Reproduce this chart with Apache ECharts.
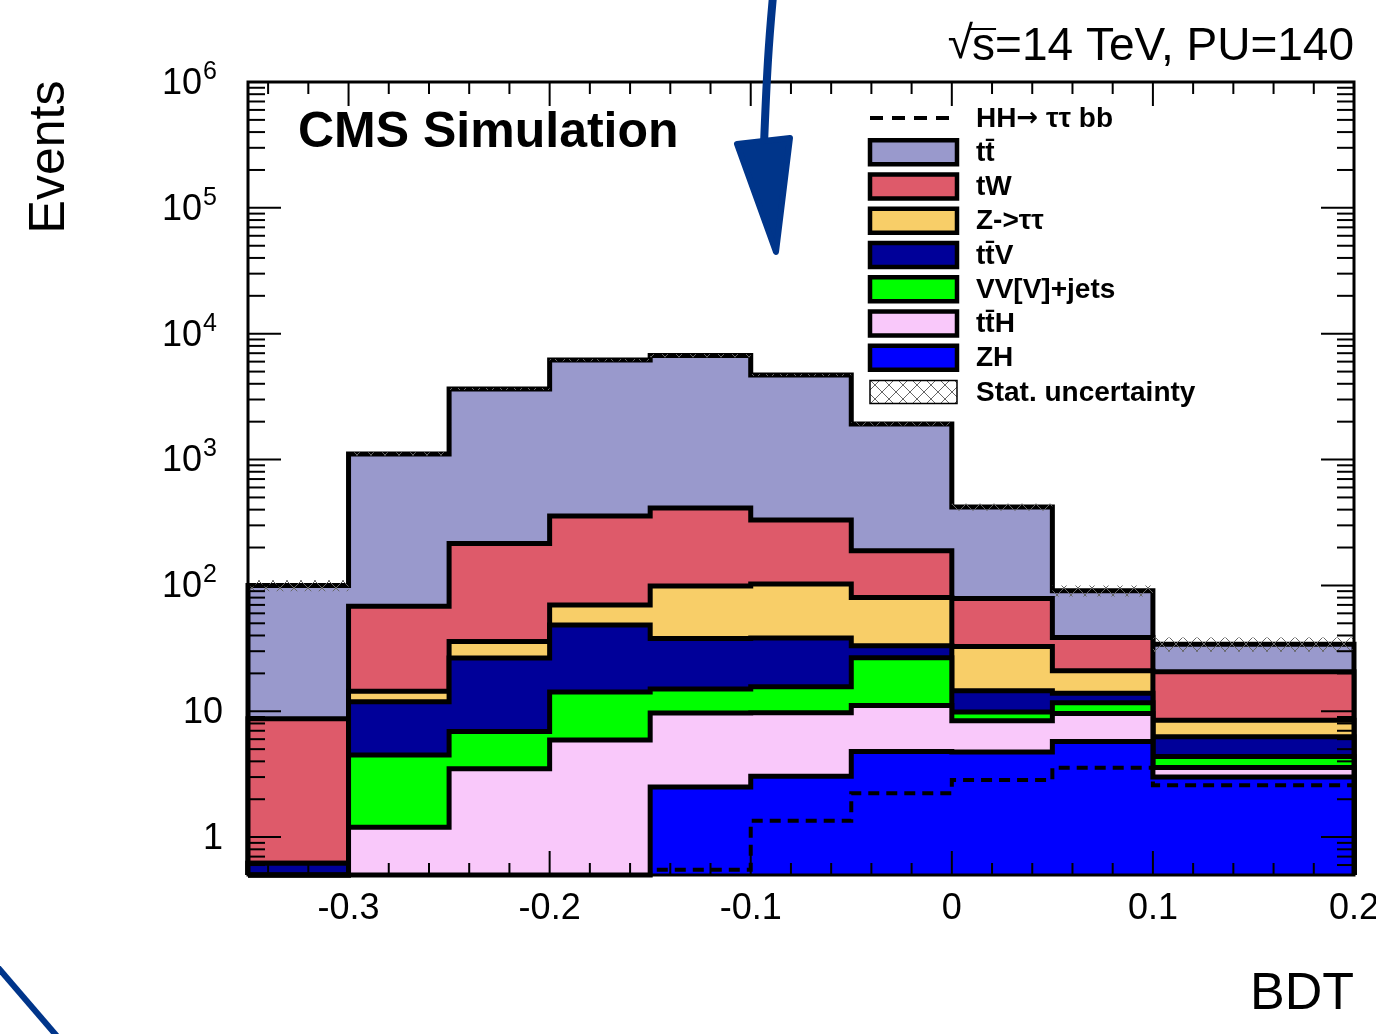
<!DOCTYPE html>
<html><head><meta charset="utf-8">
<script src="https://cdn.jsdelivr.net/npm/echarts@6/dist/echarts.min.js"></script>
<style>html,body{margin:0;padding:0;background:#fff}#c{width:1376px;height:1034px}</style>
</head><body><div id="c"></div>
<script>
const FONT = '"Liberation Sans", Arial, Helvetica, sans-serif';

// ---------------- DATA ----------------
const binEdges = [-0.35, -0.3, -0.25, -0.2, -0.15, -0.1, -0.05, 0, 0.05, 0.1, 0.15, 0.2];
// per-process yields per BDT bin
const ZH   = [0,    0,    0,    0,    2.5,  3.05, 4.8,  4.75, 5.75, 3.0,  3.0 ];
const ttH  = [0.05, 1.2,  3.5,  5.9,  7.2,  6.7,  6.3,  3.65, 3.85, 0.57, 0.57];
const VV   = [0.1,  3.3,  3.4,  8.3,  5.3,  5.9,  15.5, 1.45, 2.1,  0.8,  0.8 ];
const ttV  = [0.47, 7.4,  19.6, 34.3, 22.9, 22.6, 6.6,  4.7,  2.2,  1.9,  1.9 ];
const Ztt  = [0,    2.5,  9.3,  21.4, 61,   64.4, 47,   18.2, 7.1,  2.2,  2.2 ];
const tW   = [8.1,  54,   179,  286,  313,  228,  108,  46,   17.6, 12.1, 12.1];
const tt   = [91,   1040, 3420, 5820, 6300, 4370, 1730, 341,  52,   13.5, 13.5];
const HH   = [0,    0,    0,    0,    0.55, 1.35, 2.23, 2.84, 3.56, 2.58, 2.58];
const statRelErr = [0.10, 0.03, 0.02, 0.02, 0.03, 0.02, 0.03, 0.06, 0.10, 0.13, 0.13];

const processNames = ['ZH', 't\u0074\u0304H', 'VV[V]+jets', 't\u0074\u0304V', 'Z->\u03c4\u03c4', 'tW', 't\u0074\u0304'];
const processData  = [ZH, ttH, VV, ttV, Ztt, tW, tt];          // stacking order bottom -> top
const processColors = ['#0000FF', '#F9C8FA', '#00FF00', '#000099', '#F8CE68', '#DE5A6A', '#9999CC'];

const xTickLabelVals = [-0.3, -0.2, -0.1, 0, 0.1, 0.2];
const xTickLabels    = ['-0.3', '-0.2', '-0.1', '0', '0.1', '0.2'];
const yTickVals      = [1, 10, 100, 1000, 10000, 100000, 1000000];
const yTickExps      = ['', '', '2', '3', '4', '5', '6'];

const Y_MIN = 0.5, Y_MAX = 1e6;
const X_MIN = binEdges[0], X_MAX = binEdges[binEdges.length - 1];

// ---------------- helpers ----------------
const nb = binEdges.length - 1;
const cumul = [];
{
  let run = new Array(nb).fill(0);
  for (let p = 0; p < processData.length; p++) {
    run = run.map((v, i) => v + processData[p][i]);
    cumul.push(run.slice());
  }
}
const total = cumul[cumul.length - 1];

function stepPoints(api, vals) {
  const c = v => Math.max(v, Y_MIN);
  const pts = [api.coord([binEdges[0], Y_MIN])];
  for (let i = 0; i < nb; i++) {
    pts.push(api.coord([binEdges[i], c(vals[i])]));
    pts.push(api.coord([binEdges[i + 1], c(vals[i])]));
  }
  pts.push(api.coord([binEdges[nb], Y_MIN]));
  return pts;
}

function hatchCanvas(bg) {
  const c = document.createElement('canvas');
  c.width = 14; c.height = 14;
  const g = c.getContext('2d');
  if (bg) { g.fillStyle = bg; g.fillRect(0, 0, 14, 14); }
  g.strokeStyle = '#666'; g.lineWidth = 1;
  g.beginPath();
  g.moveTo(0, 0); g.lineTo(14, 14);
  g.moveTo(14, 0); g.lineTo(0, 14);
  g.stroke();
  return c;
}
const hatchImg = hatchCanvas(null);
const hatchImgWhite = hatchCanvas('#fff');

const series = [];
// stacked layers, drawn from the top-most cumulative down to the bottom one
for (let p = processData.length - 1; p >= 0; p--) {
  const vals = cumul[p], color = processColors[p];
  series.push({
    type: 'custom', name: processNames[p], coordinateSystem: 'cartesian2d',
    clip: false, silent: true, data: [[0, 1]], encode: { x: 0, y: 1 },
    renderItem: function (params, api) {
      const pts = stepPoints(api, vals);
      return { type: 'group', children: [
        { type: 'polygon', shape: { points: pts }, style: { fill: color, stroke: null } },
        { type: 'polyline', shape: { points: pts }, style: { fill: null, stroke: '#000', lineWidth: 5, lineJoin: 'miter' } }
      ] };
    }
  });
}
// statistical uncertainty band
series.push({
  type: 'custom', name: 'Stat. uncertainty', coordinateSystem: 'cartesian2d',
  clip: false, silent: true, data: [[0, 1]], encode: { x: 0, y: 1 },
  renderItem: function (params, api) {
    const ch = [];
    for (let i = 0; i < nb; i++) {
      const a = api.coord([binEdges[i], total[i] * (1 + statRelErr[i])]);
      const b = api.coord([binEdges[i + 1], Math.max(Y_MIN, total[i] * (1 - statRelErr[i]))]);
      ch.push({ type: 'rect', shape: { x: a[0], y: a[1], width: b[0] - a[0], height: b[1] - a[1] },
        style: { fill: { image: hatchImg, repeat: 'repeat' }, stroke: null } });
    }
    return { type: 'group', children: ch };
  }
});
// HH signal (dashed outline)
series.push({
  type: 'custom', name: 'HH', coordinateSystem: 'cartesian2d',
  clip: false, silent: true, data: [[0, 1]], encode: { x: 0, y: 1 },
  renderItem: function (params, api) {
    const pts = stepPoints(api, HH);
    return { type: 'polyline', shape: { points: pts },
      style: { fill: null, stroke: '#000', lineWidth: 4, lineDash: [11, 7] } };
  }
});
// frame, ticks, tick labels
series.push({
  type: 'custom', name: 'frame', coordinateSystem: 'cartesian2d',
  clip: false, silent: true, data: [[0, 1]], encode: { x: 0, y: 1 }, z: 5,
  renderItem: function (params, api) {
    const ch = [];
    const tl = api.coord([X_MIN, Y_MAX]), br = api.coord([X_MAX, Y_MIN]);
    const L = tl[0], T = tl[1], R = br[0], B = br[1];
    const ln = (x1, y1, x2, y2, w) => ({ type: 'line', shape: { x1, y1, x2, y2 }, style: { stroke: '#000', lineWidth: w } });
    for (let k = -17; k <= 10; k++) {
      const v = k * 0.02;
      if (v < X_MIN - 1e-9 || v > X_MAX + 1e-9) continue;
      const x = api.coord([v, Y_MIN])[0];
      const len = (k % 5 === 0) ? 24 : 12;
      ch.push(ln(x, B, x, B - len, 2), ln(x, T, x, T + len, 2));
    }
    for (let e = -1; e <= 6; e++) {
      for (let m = 1; m <= 9; m++) {
        const v = m * Math.pow(10, e);
        if (v < Y_MIN - 1e-9 || v > Y_MAX + 1e-9) continue;
        const y = api.coord([X_MIN, v])[1];
        const len = (m === 1) ? 33 : 17;
        ch.push(ln(L, y, L + len, y, 2), ln(R, y, R - len, y, 2));
      }
    }
    ch.push({ type: 'rect', shape: { x: L, y: T, width: R - L, height: B - T }, style: { fill: null, stroke: '#000', lineWidth: 3 } });
    xTickLabelVals.forEach((v, i) => {
      const x = api.coord([v, Y_MIN])[0];
      ch.push({ type: 'text', x: x, y: B + 34, style: { text: xTickLabels[i], font: '36px ' + FONT, fill: '#000', align: 'center', verticalAlign: 'middle' } });
    });
    yTickVals.forEach((v, i) => {
      const y = api.coord([X_MIN, v])[1];
      if (!yTickExps[i]) {
        ch.push({ type: 'text', x: 223, y: y + 2, style: { text: String(v), font: '36px ' + FONT, fill: '#000', align: 'right', verticalAlign: 'middle' } });
      } else {
        ch.push({ type: 'text', x: 202, y: y + 2, style: { text: '10', font: '36px ' + FONT, fill: '#000', align: 'right', verticalAlign: 'middle' } });
        ch.push({ type: 'text', x: 203, y: y - 10, style: { text: yTickExps[i], font: '25px ' + FONT, fill: '#000', align: 'left', verticalAlign: 'middle' } });
      }
    });
    return { type: 'group', children: ch };
  }
});

// ---------------- graphics (legend, titles, annotations) ----------------
const graphics = [];
const legRows = [
  { label: '{a|HH}{r|\u2192}{a| \u03c4\u03c4 bb}', kind: 'dash' },
  { label: processNames[6], color: processColors[6] },
  { label: processNames[5], color: processColors[5] },
  { label: processNames[4], color: processColors[4] },
  { label: processNames[3], color: processColors[3] },
  { label: processNames[2], color: processColors[2] },
  { label: processNames[1], color: processColors[1] },
  { label: processNames[0], color: processColors[0] },
  { label: 'Stat. uncertainty', kind: 'hatch' }
];
legRows.forEach((r, i) => {
  const cy = 118 + i * 34.25;
  if (r.kind === 'dash') {
    graphics.push({ type: 'line', shape: { x1: 870, y1: cy, x2: 956, y2: cy }, style: { stroke: '#000', lineWidth: 4, lineDash: [13, 9] } });
  } else if (r.kind === 'hatch') {
    graphics.push({ type: 'rect', shape: { x: 870, y: cy - 11.5, width: 87, height: 23 }, style: { fill: { image: hatchImgWhite, repeat: 'repeat' }, stroke: '#000', lineWidth: 1.5 } });
  } else {
    graphics.push({ type: 'rect', shape: { x: 870, y: cy - 12, width: 87, height: 24 }, style: { fill: r.color, stroke: '#000', lineWidth: 4.5 } });
  }
  graphics.push({ type: 'text', x: 976, y: cy + 1, style: { text: r.label, font: 'bold 28px ' + FONT, fill: '#000', align: 'left', verticalAlign: 'middle',
    rich: { a: { font: 'bold 28px ' + FONT, fill: '#000' }, r: { font: 'bold 26px "DejaVu Sans", sans-serif', fill: '#000' } } } });
});

graphics.push({ type: 'text', x: 298, y: 133, style: { text: 'CMS Simulation', font: 'bold 50px ' + FONT, fill: '#000', align: 'left', verticalAlign: 'middle' } });
graphics.push({ type: 'text', x: 50, y: 157, rotation: Math.PI / 2, style: { text: 'Events', font: '50px ' + FONT, fill: '#000', align: 'center', verticalAlign: 'middle' } });
graphics.push({ type: 'text', x: 1354, y: 995, style: { text: 'BDT', font: '52px ' + FONT, fill: '#000', align: 'right', verticalAlign: 'middle' } });

// energy label with sqrt(s)
{
  const topTxt = 's=14 TeV, PU=140';
  const mc = document.createElement('canvas').getContext('2d');
  mc.font = '46px ' + FONT;
  const w = mc.measureText(topTxt).width;
  const sw = mc.measureText('s').width;
  const xs = 1354 - w;
  graphics.push({ type: 'text', x: 1354, y: 47, style: { text: topTxt, font: '46px ' + FONT, fill: '#000', align: 'right', verticalAlign: 'middle' } });
  graphics.push({ type: 'text', x: xs + 1, y: 45, style: { text: '\u221A', font: '46px ' + FONT, fill: '#000', align: 'right', verticalAlign: 'middle' } });
  graphics.push({ type: 'line', shape: { x1: xs - 2, y1: 29, x2: xs + sw + 1, y2: 29 }, style: { stroke: '#000', lineWidth: 2 } });
}

// blue annotation marks
const ANN = '#00358A';
graphics.push({ type: 'polyline', z: 100, shape: { points: [[773, -4], [768, 60], [764, 145]], smooth: 0.4 }, style: { stroke: ANN, lineWidth: 8, fill: null } });
graphics.push({ type: 'polygon', z: 100, shape: { points: [[737, 144], [790, 138], [776, 252]] }, style: { fill: ANN, stroke: ANN, lineWidth: 6, lineJoin: 'round' } });
graphics.push({ type: 'line', z: 100, shape: { x1: -6, y1: 963, x2: 62, y2: 1042 }, style: { stroke: ANN, lineWidth: 6 } });

const chart = echarts.init(document.getElementById('c'), null, { renderer: 'canvas' });
chart.setOption({
  backgroundColor: '#fff',
  animation: false,
  grid: { left: 248, right: 22, top: 82, bottom: 159, containLabel: false },
  xAxis: { type: 'value', min: X_MIN, max: X_MAX, axisLine: { show: false }, axisTick: { show: false }, axisLabel: { show: false }, splitLine: { show: false } },
  yAxis: { type: 'log', logBase: 10, min: Y_MIN, max: Y_MAX, axisLine: { show: false }, axisTick: { show: false }, axisLabel: { show: false }, splitLine: { show: false }, minorTick: { show: false } },
  series: series,
  graphic: graphics
});
</script>
</body></html>
